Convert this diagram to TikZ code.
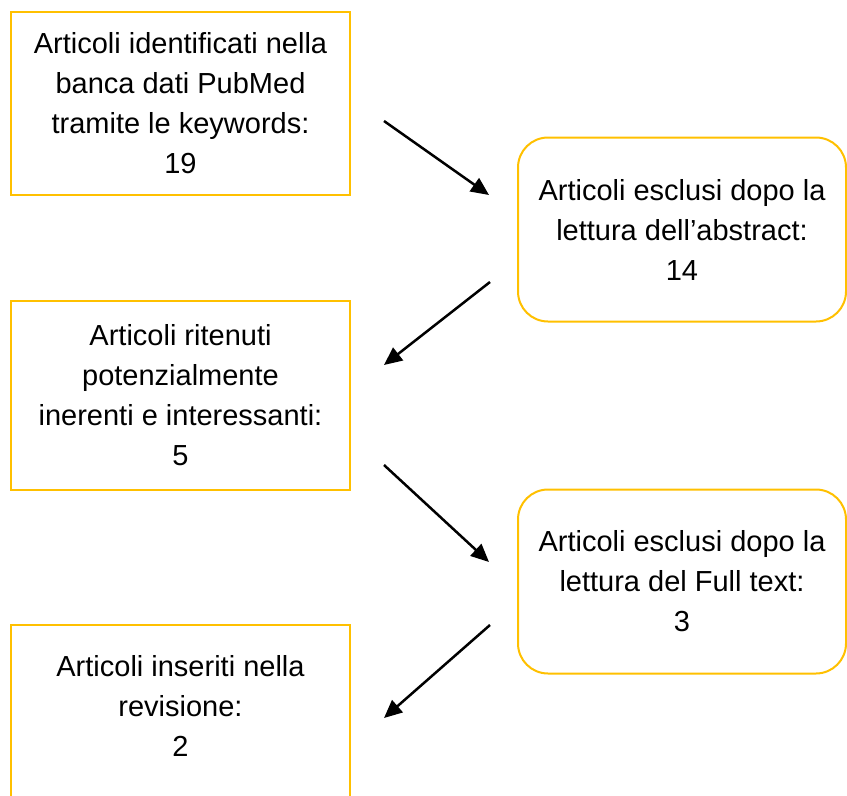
\documentclass[tikz,border=0pt]{standalone}
\usepackage{fontspec}
\setmainfont{Liberation Sans}
\definecolor{boxgiallo}{HTML}{FFC000}
\usetikzlibrary{arrows.meta, positioning, calc}

\begin{document}
\begin{tikzpicture}[
        x=1pt, y=1pt,
        node distance=106pt,
        box/.style={rectangle, draw=boxgiallo, line width=2pt, fill=white,
                    minimum width=339pt, minimum height=183pt, inner sep=0pt,
                    outer sep=0pt, align=center,
                    font=\fontsize{29pt}{40pt}\selectfont},
        tondo/.style={box, rounded corners=30pt, minimum width=328pt,
                      minimum height=184pt},
        arr/.style={-{Triangle[length=18pt, width=16pt]}, line width=2.5pt}
      ]
      \useasboundingbox (0,0) rectangle (847,-796);
      \node[box] (ident) at (180.5,-103.5)
        {Articoli identificati nella\\banca dati PubMed\\tramite le keywords:\\19};
      \node[box, minimum height=189pt, below=of ident] (riten)
        {Articoli ritenuti\\potenzialmente\\inerenti e interessanti:\\5};
      \node[box, text depth=22pt, below=135pt of riten] (inser)
        {Articoli inseriti nella\\revisione:\\2};
      \node[tondo] (escabs) at (682,-229.5)
        {Articoli esclusi dopo la\\lettura dell’abstract:\\14};
      \node[tondo, below=168pt of escabs] (escfull)
        {Articoli esclusi dopo la\\lettura del Full text:\\3};

      \draw[arr] ($(ident.east)+(34,-17.5)$) -- ($(escabs.west)+(-29,34.5)$);
      \draw[arr] ($(escabs.west)+(-28,-52.5)$) -- ($(riten.east)+(34,30.5)$);
      \draw[arr] ($(riten.east)+(34,-69.5)$) -- ($(escfull.west)+(-29,19.5)$);
      \draw[arr] ($(escfull.west)+(-28,-43.5)$) -- ($(inser.east)+(34,-1.5)$);
\end{tikzpicture}
\end{document}
